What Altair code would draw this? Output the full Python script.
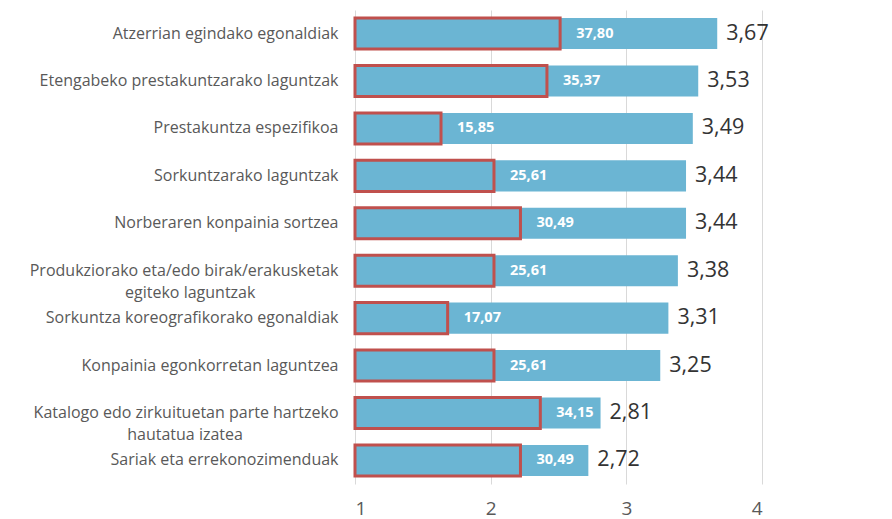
import altair as alt
import pandas as pd

categories = [
    "Atzerrian egindako egonaldiak",
    "Etengabeko prestakuntzarako laguntzak",
    "Prestakuntza espezifikoa",
    "Sorkuntzarako laguntzak",
    "Norberaren konpainia sortzea",
    "Produkziorako eta/edo birak/erakusketak|egiteko laguntzak",
    "Sorkuntza koreografikorako egonaldiak",
    "Konpainia egonkorretan laguntzea",
    "Katalogo edo zirkuituetan parte hartzeko|hautatua izatea",
    "Sariak eta errekonozimenduak",
]
scores = [3.67, 3.53, 3.49, 3.44, 3.44, 3.38, 3.31, 3.25, 2.81, 2.72]
percents = [37.80, 35.37, 15.85, 25.61, 30.49, 25.61, 17.07, 25.61, 34.15, 30.49]
x_ticks = [1, 2, 3, 4]

# non-breaking spaces (closed by a word joiner so they are not trimmed)
# appended to the second line of two-line labels, so that the second line
# appears centred under the first, as in the reference
second_line_pad = {5: 20, 8: 23}

labels = []
for i, c in enumerate(categories):
    n = second_line_pad.get(i, 0)
    labels.append(c + ("\u00a0" * n + "\u2060" if n else ""))

df = pd.DataFrame({"cat": labels, "score": scores, "pct": percents})

FONT = "Open Sans"
BLUE = "#6bb5d3"
RED = "#c0504d"

base = alt.Chart(df).transform_calculate(
    start="1",
    score_lbl="replace(format(datum.score, '.2f'), '.', ',')",
    pct_lbl="replace(format(datum.pct, '.2f'), '.', ',')",
)

y = alt.Y(
    "cat:N",
    sort=None,
    scale=alt.Scale(paddingInner=0.345, paddingOuter=0.17),
    axis=alt.Axis(
        title=None,
        domain=False,
        ticks=False,
        labelFontSize=16,
        labelFont=FONT,
        labelColor="#595959",
        labelPadding=17,
        labelLimit=400,
        labelLineHeight=22,
        labelExpr="split(datum.label, '|')",
    ),
)

score_scale = alt.Scale(domain=[1, 4], zero=False, nice=False)
pct_scale = alt.Scale(domain=[0, 75], nice=False)

blue = base.mark_bar(color=BLUE).encode(
    x=alt.X(
        "score:Q",
        scale=score_scale,
        axis=alt.Axis(
            title=None,
            values=x_ticks,
            domain=False,
            ticks=False,
            grid=True,
            gridColor="#d9d9d9",
            gridWidth=1,
            labelFontSize=19,
            labelFont=FONT,
            labelColor="#595959",
            labelPadding=15,
        ),
    ),
    x2="start:Q",
    y=y,
)

score_text = base.mark_text(
    align="left", baseline="middle", dx=9, fontSize=21.5, font=FONT, color="#333333"
).encode(
    x=alt.X("score:Q", scale=score_scale, axis=None),
    y=alt.Y("cat:N", sort=None),
    text="score_lbl:N",
)

red = base.mark_bar(fill=None, stroke=RED, strokeWidth=3).encode(
    x=alt.X("pct:Q", scale=pct_scale, axis=None),
    y=alt.Y("cat:N", sort=None),
)

pct_text = base.mark_text(
    align="left", baseline="middle", dx=16, fontSize=14.5, fontWeight="bold",
    font=FONT, color="white"
).encode(
    x=alt.X("pct:Q", scale=pct_scale, axis=None),
    y=alt.Y("cat:N", sort=None),
    text="pct_lbl:N",
)

chart = (
    alt.layer(blue, red, pct_text, score_text)
    .resolve_scale(x="independent")
    .properties(
        width=407,
        height=474,
        autosize=alt.AutoSizeParams(type="none"),
        padding={"left": 347, "top": 2, "right": 120, "bottom": 42},
    )
    .configure_view(stroke=None)
)

chart.save("out.html", embed_options={"renderer": "svg", "actions": False})
